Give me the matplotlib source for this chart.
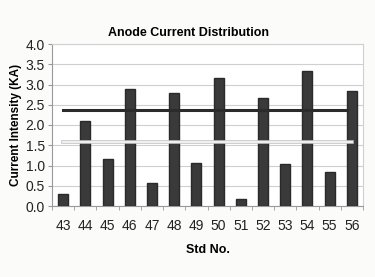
import numpy as np
import matplotlib.pyplot as plt

plt.rcParams['font.family'] = ['Liberation Sans', 'DejaVu Sans']

# data
std_no = ['43', '44', '45', '46', '47', '48', '49', '50', '51', '52', '53', '54', '55', '56']
current = [0.30, 2.10, 1.15, 2.88, 0.57, 2.78, 1.05, 3.15, 0.18, 2.67, 1.03, 3.33, 0.83, 2.84]
upper_level = 2.36
lower_level = 1.57


def main():
    fig = plt.figure(figsize=(3.75, 2.77), dpi=100, facecolor='#fbfbf9')
    ax = fig.add_axes([52 / 375, 1 - 206 / 277, 311 / 375, 162 / 277])
    ax.set_facecolor('white')

    x = np.arange(len(std_no))
    ax.bar(x, current, width=0.45, color='#3a3a3a', edgecolor='#2a2a2a', zorder=3)

    # reference levels
    ax.plot([x[0], x[-1] - 0.2], [upper_level, upper_level], color='#2b2b2b', lw=2.2, zorder=4)
    ax.plot([x[0], x[-1]], [lower_level, lower_level], color='#c4c4c4', lw=2.6, zorder=4)
    ax.plot([x[0], x[-1]], [lower_level, lower_level], color='#f4f4f4', lw=1.3, zorder=5)

    ax.set_xlim(-0.5, len(std_no) - 0.5)
    ax.set_ylim(0, 4.0)
    ax.set_yticks(np.arange(0, 4.01, 0.5))
    ax.set_yticklabels(['%.1f' % v for v in np.arange(0, 4.01, 0.5)])
    ax.set_xticks(x)
    ax.set_xticklabels(std_no)
    ax.set_xticks(np.arange(-0.5, len(std_no), 1), minor=True)
    ax.tick_params(axis='x', which='major', length=0, labelsize=10, pad=9, colors='#222222')
    ax.tick_params(axis='x', which='minor', length=3, color='#999999')
    ax.tick_params(axis='y', length=3, color='#999999', labelsize=10, colors='#222222', pad=2)

    ax.grid(axis='y', color='#cfcfcf', lw=0.8, zorder=0)
    for s in ['top', 'right']:
        ax.spines[s].set_color('#d0d0d0')
    for s in ['left', 'bottom']:
        ax.spines[s].set_color('#999999')

    ax.set_title('Anode Current Distribution', fontsize=9, fontweight='bold', pad=6, x=0.44)
    ax.set_ylabel('Current Intensity (KA)', fontsize=8.5, fontweight='bold', labelpad=3)
    ax.set_xlabel('Std No.', fontsize=9, fontweight='bold', labelpad=8)

    fig.savefig('out.png', dpi=100, facecolor=fig.get_facecolor())
    plt.close()


if __name__ == '__main__':
    main()
